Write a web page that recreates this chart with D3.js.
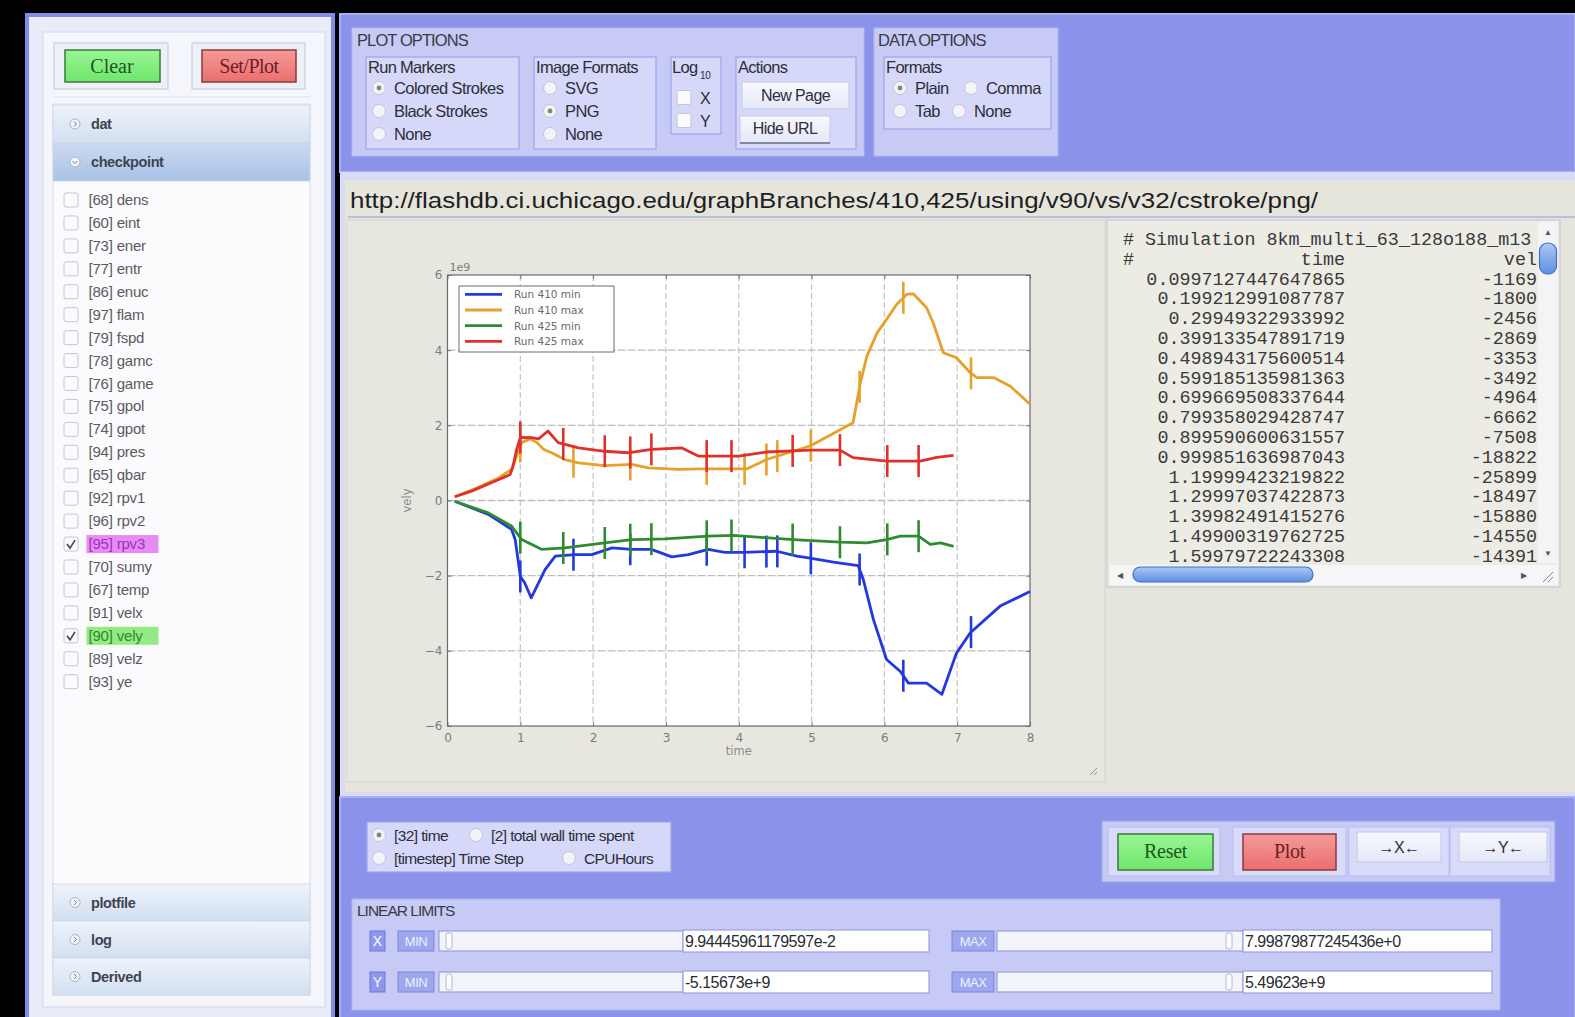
<!DOCTYPE html>
<html><head><meta charset="utf-8">
<script src="https://cdn.jsdelivr.net/npm/d3@7"></script>
<style>
html,body{margin:0;padding:0;background:#000;overflow:hidden}
svg{display:block;font-family:"Liberation Sans",Arial,sans-serif}
</style></head><body>
<svg id="page" width="1575" height="1017"></svg>
<script>
// ---------------- chart data (time, vely in units of 1e9) ----------------
const xTicks = [0, 1, 2, 3, 4, 5, 6, 7, 8];
const yTicks = [-6, -4, -2, 0, 2, 4, 6];
const seriesNames = ["Run 410 min", "Run 410 max", "Run 425 min", "Run 425 max"];

const run410MinTime = [0.10,0.56,0.88,0.93,1.00,1.06,1.15,1.34,1.48,1.75,1.98,2.26,2.53,2.80,3.08,3.31,3.58,3.81,4.06,4.52,4.80,5.00,5.30,5.64,5.71,5.85,6.03,6.22,6.33,6.58,6.79,6.99,7.18,7.59,8.00];
const run410MinVely = [-0.02,-0.37,-0.77,-1.04,-2.02,-2.19,-2.59,-1.84,-1.48,-1.44,-1.44,-1.26,-1.30,-1.30,-1.50,-1.44,-1.30,-1.38,-1.38,-1.35,-1.48,-1.54,-1.64,-1.73,-2.10,-3.17,-4.23,-4.55,-4.86,-4.86,-5.157,-4.06,-3.52,-2.81,-2.42];

const run410MaxTime = [0.10,0.40,0.70,0.88,0.95,1.02,1.13,1.23,1.32,1.43,1.61,1.80,2.16,2.53,2.76,3.17,3.47,3.81,4.11,4.38,4.98,5.57,5.62,5.67,5.76,5.90,6.03,6.17,6.31,6.40,6.58,6.67,6.81,6.99,7.18,7.27,7.50,7.73,8.00];
const run410MaxVely = [0.10,0.33,0.60,0.83,1.18,1.54,1.64,1.54,1.36,1.27,1.09,1.00,0.93,0.96,0.87,0.83,0.84,0.84,0.84,1.09,1.45,2.07,2.60,3.13,3.84,4.46,4.82,5.22,5.49,5.496,5.13,4.73,3.93,3.80,3.40,3.27,3.27,3.04,2.56];

const run425MinTime = [0.10,0.56,0.88,1.02,1.29,1.61,2.16,2.53,2.99,3.58,3.93,4.75,5.39,5.76,6.03,6.22,6.47,6.63,6.77,6.95];
const run425MinVely = [-0.02,-0.33,-0.68,-1.04,-1.30,-1.26,-1.13,-1.04,-1.02,-0.95,-0.93,-1.04,-1.11,-1.13,-1.04,-0.95,-0.95,-1.17,-1.13,-1.22];

const run425MaxTime = [0.10,0.33,0.65,0.86,0.90,0.95,1.00,1.16,1.25,1.38,1.52,1.80,2.16,2.48,2.80,3.22,3.45,3.81,4.00,4.38,4.98,5.39,5.57,6.03,6.49,6.72,6.95];
const run425MaxVely = [0.10,0.25,0.51,0.69,0.91,1.36,1.68,1.67,1.64,1.85,1.54,1.40,1.31,1.27,1.36,1.40,1.18,1.18,1.18,1.29,1.34,1.34,1.14,1.05,1.05,1.15,1.20];

// checkpoint times drawn as stroke markers on each run
const run410Checkpoints = [1.00,1.73,2.51,3.56,4.08,4.38,4.53,4.99,5.66,6.26,7.19];
const run425Checkpoints = [1.00,1.59,2.16,2.51,2.80,3.56,3.90,4.74,5.39,6.04,6.47];

// ---------------- page text data ----------------
const varIds   = [68,60,73,77,86,97,79,78,76,75,74,94,65,92,96,95,70,67,91,90,89,93];
const varNames = ["dens","eint","ener","entr","enuc","flam","fspd","gamc","game","gpol","gpot","pres","qbar","rpv1","rpv2","rpv3","sumy","temp","velx","vely","velz","ye"];
const checkedVars = ["rpv3", "vely"];
const tableTimes = ["0.0997127447647865","0.199212991087787","0.29949322933992","0.399133547891719","0.498943175600514","0.599185135981363","0.699669508337644","0.799358029428747","0.899590600631557","0.999851636987043","1.19999423219822","1.29997037422873","1.39982491415276","1.49900319762725","1.59979722243308"];
const tableVely  = ["-1169","-1800","-2456","-2869","-3353","-3492","-4964","-6662","-7508","-18822","-25899","-18497","-15880","-14550","-14391"];
const plotUrl = "http://flashdb.ci.uchicago.edu/graphBranches/410,425/using/v90/vs/v32/cstroke/png/";
const limitRows = [
  {axis: "X", min: "9.94445961179597e-2", max: "7.99879877245436e+0"},
  {axis: "Y", min: "-5.15673e+9", max: "5.49623e+9"}
];

// ---------------- styles ----------------
const seriesColors = ["#2438de", "#e6a12c", "#2f8b30", "#e0302b"];
const C = {
  blue: "#8a92ea", blueEdge: "#a9b0f3", optBox: "#c6caf5", optEdge: "#b2b8f0",
  group: "#d5d8f9", groupEdge: "#9ea5ec", beige: "#e6e5dc", figure: "#e8e7df",
  text: "#3a3a44"
};

const svg = d3.select("#page");
const defs = svg.append("defs");

function box(g, x, y, w, h, fill, stroke, sw, rx) {
  return g.append("rect").attr("x", x).attr("y", y).attr("width", w).attr("height", h)
    .attr("fill", fill).attr("stroke", stroke || "none").attr("stroke-width", sw || 1).attr("rx", rx || 0);
}
function txt(g, x, y, s, size, fill, opts) {
  opts = opts || {};
  const t = g.append("text").attr("x", x).attr("y", y).text(s)
    .attr("font-size", size).attr("fill", fill || C.text)
    .attr("text-anchor", opts.anchor || "start")
    .attr("letter-spacing", opts.ls != null ? opts.ls : -0.3);
  if (opts.family) t.attr("font-family", opts.family);
  if (opts.weight) t.attr("font-weight", opts.weight);
  if (opts.len) t.attr("textLength", opts.len).attr("lengthAdjust", "spacingAndGlyphs");
  return t;
}
function radio(g, cx, cy, on) {
  g.append("circle").attr("cx", cx).attr("cy", cy).attr("r", 6.5)
    .attr("fill", "#f3f3f8").attr("stroke", "#c2c5dc").attr("stroke-width", 1);
  if (on) g.append("circle").attr("cx", cx).attr("cy", cy).attr("r", 2.4).attr("fill", "#7d8a78");
}
function checkbox(g, x, y, on) {
  box(g, x, y, 14, 14, "#fbfbfd", "#c4c6d2", 1, 2);
  if (on) g.append("path").attr("d", `M${x+3},${y+7} L${x+6},${y+11} L${x+11},${y+3}`)
    .attr("fill", "none").attr("stroke", "#444").attr("stroke-width", 1.6);
}

// gradients
function vgrad(id, c1, c2) {
  const lg = defs.append("linearGradient").attr("id", id).attr("x1", 0).attr("y1", 0).attr("x2", 0).attr("y2", 1);
  lg.append("stop").attr("offset", "0%").attr("stop-color", c1);
  lg.append("stop").attr("offset", "100%").attr("stop-color", c2);
}
vgrad("hdr", "#eef3fb", "#d2dff0");
vgrad("hdrOn", "#cbdaf0", "#a9c2e7");
vgrad("btnG", "#98f694", "#6fe66c");
vgrad("btnR", "#f59a9a", "#ea6e6e");
vgrad("btnW", "#f8f9fe", "#e4e7f6");
vgrad("thumb", "#a9c8f4", "#5f8fe0");

// ======================= left panel =======================
const sidePanel = svg.append("g");
box(sidePanel, 27, 15, 306, 1012, "#e9ecf8", "#7f8de8", 4);
box(sidePanel, 43, 32, 282, 975, "#f5f6fb", "#d3d7e8", 1);
// action buttons
box(sidePanel, 54, 43, 114, 46, "#eef0f8", "#c9cddf", 1.2);
box(sidePanel, 192, 43, 113, 46, "#eef0f8", "#c9cddf", 1.2);
box(sidePanel, 65, 50, 95, 32, "url(#btnG)", "#3b7a38", 1.5);
box(sidePanel, 202, 50, 94, 32, "url(#btnR)", "#8c3a3a", 1.5);
txt(sidePanel, 112, 73, "Clear", 20, "#21561f", {anchor: "middle", family: "Liberation Serif", ls: 0});
txt(sidePanel, 249, 73, "Set/Plot", 20, "#6e1f1f", {anchor: "middle", family: "Liberation Serif", ls: -0.5});
sidePanel.append("line").attr("x1", 53).attr("x2", 310).attr("y1", 97).attr("y2", 97).attr("stroke", "#dde0ea");
// accordion
box(sidePanel, 53, 104, 257, 891, "#fbfbfd", "#d8dbe6", 1);
const headers = [
  {name: "dat", y: 105, h: 38, on: false},
  {name: "checkpoint", y: 143, h: 38, on: true},
  {name: "plotfile", y: 884, h: 37, on: false},
  {name: "log", y: 921, h: 37, on: false},
  {name: "Derived", y: 958, h: 37, on: false}
];
headers.forEach(hd => {
  box(sidePanel, 53, hd.y, 257, hd.h, hd.on ? "url(#hdrOn)" : "url(#hdr)", "#c9d5e8", 0.8);
  sidePanel.append("circle").attr("cx", 75).attr("cy", hd.y + hd.h / 2).attr("r", 5)
    .attr("fill", "#f2f5fa").attr("stroke", "#a9b3c6");
  sidePanel.append("path").attr("d", hd.on
      ? `M72.5,${hd.y + hd.h/2 - 1} l2.5,2.5 l2.5,-2.5`
      : `M74,${hd.y + hd.h/2 - 2.5} l2.5,2.5 l-2.5,2.5`)
    .attr("fill", "none").attr("stroke", "#6d7890").attr("stroke-width", 1);
  txt(sidePanel, 91, hd.y + hd.h / 2 + 5, hd.name, 14.5, "#3f4450", {weight: "bold", ls: -0.4});
});
// variable list
const rowY = d3.scaleLinear().domain([0, varNames.length - 1]).range([200, 681.7]);
const hl = {rpv3: {bg: "#e68cf2", fg: "#a02fc4"}, vely: {bg: "#94ea84", fg: "#2d8a2b"}};
const items = sidePanel.selectAll("g.var").data(varNames).join("g").attr("class", "var");
items.each(function (name, i) {
  const g = d3.select(this), cy = rowY(i);
  checkbox(g, 64, cy - 7, checkedVars.includes(name));
  const label = `[${varIds[i]}] ${name}`;
  if (hl[name]) box(g, 86.5, cy - 9, 72, 18, hl[name].bg, "none");
  txt(g, 88.5, cy + 5, label, 15, hl[name] ? hl[name].fg : "#5a5a62", {ls: -0.2});
});

// ======================= top options panel =======================
const optPanel = svg.append("g");
box(optPanel, 340, 14, 1235, 158, C.blue, C.blueEdge, 2);
box(optPanel, 352, 28, 512, 128, C.optBox, C.optEdge, 1);
txt(optPanel, 357, 46, "PLOT OPTIONS", 16.5, "#3a3a46", {ls: -0.9});
box(optPanel, 874, 28, 184, 128, C.optBox, C.optEdge, 1);
txt(optPanel, 878, 46, "DATA OPTIONS", 16.5, "#3a3a46", {ls: -1});

function group(x, y, w, h, title) {
  box(optPanel, x, y, w, h, C.group, C.groupEdge, 1.2);
  if (title) txt(optPanel, x + 2, y + 16, title, 16.5, "#2e2e3a", {ls: -0.7});
}
const itemY = [88, 111, 134];
group(366, 57, 153, 92, "Run Markers");
["Colored Strokes", "Black Strokes", "None"].forEach((s, i) => {
  radio(optPanel, 379, itemY[i], i === 0);
  txt(optPanel, 394, itemY[i] + 6, s, 16.5, "#2e2e3a", {ls: -0.6});
});
group(534, 57, 122, 92, "Image Formats");
["SVG", "PNG", "None"].forEach((s, i) => {
  radio(optPanel, 550, itemY[i], i === 1);
  txt(optPanel, 565, itemY[i] + 6, s, 16.5, "#2e2e3a", {ls: -0.6});
});
group(671, 57, 50, 77, null);
txt(optPanel, 672, 73, "Log", 16.5, "#2e2e3a", {ls: -0.7});
txt(optPanel, 700, 79, "10", 10, "#2e2e3a", {ls: -0.3});
[["X", 97.5], ["Y", 120.5]].forEach(([s, cy]) => {
  checkbox(optPanel, 677, cy - 7, false);
  txt(optPanel, 700, cy + 6, s, 16, "#2e2e3a", {ls: 0});
});
group(736, 57, 120, 92, "Actions");
box(optPanel, 742, 82, 107, 27, "url(#btnW)", "#c5c9e6", 1);
txt(optPanel, 795.5, 101, "New Page", 16, "#2e2e3a", {anchor: "middle", ls: -0.6});
box(optPanel, 740, 116, 90, 27, "url(#btnW)", "#c5c9e6", 1);
optPanel.append("line").attr("x1", 740).attr("x2", 830).attr("y1", 143).attr("y2", 143).attr("stroke", "#6a6f86").attr("stroke-width", 1.5);
txt(optPanel, 785, 134, "Hide URL", 16, "#2e2e3a", {anchor: "middle", ls: -0.6});
group(884, 57, 167, 72, "Formats");
[["Plain", 900, 88, true], ["Comma", 971, 88, false], ["Tab", 900, 111, false], ["None", 959, 111, false]]
  .forEach(([s, cx, cy, on]) => {
    radio(optPanel, cx, cy, on);
    txt(optPanel, cx + 15, cy + 6, s, 16.5, "#2e2e3a", {ls: -0.6});
  });

// ======================= main display area =======================
const display = svg.append("g");
box(display, 340, 172, 1235, 626, "#d8dbf5", "none");
box(display, 345, 180, 1230, 612, C.beige, "none");
txt(display, 350, 208, plotUrl, 22, "#1e1e24", {len: 968, ls: 0});
display.append("line").attr("x1", 348).attr("x2", 1575).attr("y1", 217).attr("y2", 217)
  .attr("stroke", "#aab1e6").attr("stroke-width", 1.5);
box(display, 347, 220, 758, 562, C.figure, "#d6d5cc", 1);
// resize grip
[0, 4].forEach(k => display.append("line").attr("x1", 1090 + k).attr("y1", 775).attr("x2", 1097).attr("y2", 768 + k)
  .attr("stroke", "#8e8e94").attr("stroke-width", 1));

// ---- matplotlib-style chart ----
const plot = svg.append("g");
const x = d3.scaleLinear().domain([0, 8]).range([447.5, 1030]);
const y = d3.scaleLinear().domain([-6, 6]).range([726, 275]);
box(plot, x(0), y(6), x(8) - x(0), y(-6) - y(6), "#ffffff", "none");

// grid
plot.append("g").selectAll("line").data(xTicks.slice(1, -1)).join("line")
  .attr("x1", d => x(d)).attr("x2", d => x(d)).attr("y1", y(6)).attr("y2", y(-6))
  .attr("stroke", "#c9c9cc").attr("stroke-width", 1.3).attr("stroke-dasharray", "6,3");
plot.append("g").selectAll("line").data(yTicks.slice(1, -1)).join("line")
  .attr("x1", x(0)).attr("x2", x(8)).attr("y1", d => y(d)).attr("y2", d => y(d))
  .attr("stroke", "#bdbdc0").attr("stroke-width", 1.3).attr("stroke-dasharray", "8,2");

// axes (ticks point inward, labels outside)
const fmt = d3.format("d");
plot.append("g").attr("transform", `translate(0,${y(-6)})`)
  .call(d3.axisBottom(x).tickValues(xTicks).tickFormat(fmt).tickSizeInner(-4).tickSizeOuter(0).tickPadding(7));
plot.append("g").attr("transform", `translate(${x(0)},0)`)
  .call(d3.axisLeft(y).tickValues(yTicks).tickFormat(fmt).tickSizeInner(-4).tickSizeOuter(0).tickPadding(5));
plot.append("g").attr("transform", `translate(0,${y(6)})`)
  .call(d3.axisTop(x).tickValues(xTicks).tickFormat("").tickSizeInner(-4).tickSizeOuter(0));
plot.append("g").attr("transform", `translate(${x(8)},0)`)
  .call(d3.axisRight(y).tickValues(yTicks).tickFormat("").tickSizeInner(-4).tickSizeOuter(0));
plot.selectAll(".domain").remove();
plot.selectAll(".tick line").attr("stroke", "#777");
plot.selectAll(".tick text").attr("fill", "#7b7b80").attr("font-size", 12)
  .attr("font-family", "DejaVu Sans, sans-serif");
box(plot, x(0), y(6), x(8) - x(0), y(-6) - y(6), "none", "#6a6a70", 1.2);
txt(plot, x(0) + 2, y(6) - 4, "1e9", 11, "#7b7b80", {family: "DejaVu Sans", ls: 0});
txt(plot, (x(0) + x(8)) / 2, 755, "time", 11.5, "#8a8a90", {anchor: "middle", family: "DejaVu Sans", ls: 0});
txt(plot, 0, 0, "vely", 11.5, "#8a8a90", {anchor: "middle", family: "DejaVu Sans", ls: 0})
  .attr("transform", `translate(411,${y(0)}) rotate(-90)`);

// series
const series = [
  {t: run410MinTime, v: run410MinVely, marks: run410Checkpoints},
  {t: run410MaxTime, v: run410MaxVely, marks: run410Checkpoints},
  {t: run425MinTime, v: run425MinVely, marks: run425Checkpoints},
  {t: run425MaxTime, v: run425MaxVely, marks: run425Checkpoints}
];
function valueAt(s, t) {
  const i = Math.max(1, Math.min(s.t.length - 1, d3.bisectLeft(s.t, t)));
  const t0 = s.t[i - 1], t1 = s.t[i];
  return s.v[i - 1] + (s.v[i] - s.v[i - 1]) * (t - t0) / (t1 - t0);
}
const line = d3.line().x(d => x(d[0])).y(d => y(d[1]));
const drawOrder = [1, 3, 0, 2];
drawOrder.forEach(k => {
  const s = series[k];
  plot.append("path").datum(d3.zip(s.t, s.v)).attr("d", line)
    .attr("fill", "none").attr("stroke", seriesColors[k]).attr("stroke-width", 2.8)
    .attr("stroke-linejoin", "round");
  plot.append("g").selectAll("line").data(s.marks).join("line")
    .attr("x1", d => x(d)).attr("x2", d => x(d))
    .attr("y1", d => y(valueAt(s, d)) - 16).attr("y2", d => y(valueAt(s, d)) + 16)
    .attr("stroke", seriesColors[k]).attr("stroke-width", 2.6);
});

// legend
const leg = plot.append("g");
box(leg, 459, 286, 155, 66, "#ffffff", "#6d6d72", 1);
seriesNames.forEach((n, i) => {
  const ly = 294.3 + i * 15.7;
  leg.append("line").attr("x1", 465).attr("x2", 502).attr("y1", ly).attr("y2", ly)
    .attr("stroke", seriesColors[i]).attr("stroke-width", 2.8);
  txt(leg, 514, ly + 4, n, 10.5, "#6a6a70", {family: "DejaVu Sans", ls: 0});
});

// ---- data listing panel ----
const tbl = svg.append("g");
box(tbl, 1107, 220, 453, 367, "#ecebe4", "#c8cad8", 1.2);
defs.append("clipPath").attr("id", "tblClip").append("rect")
  .attr("x", 1110).attr("y", 222).attr("width", 427).attr("height", 341);
const tt = tbl.append("g").attr("clip-path", "url(#tblClip)");
const mono = {family: "Liberation Mono", ls: 0};
txt(tt, 1123, 244.5, "# Simulation 8km_multi_63_128o188_m13", 18.4, "#3a3a3a", mono);
txt(tt, 1123, 264.5, "#", 18.4, "#3a3a3a", mono);
txt(tt, 1345, 264.5, "time", 18.4, "#3a3a3a", {...mono, anchor: "end"});
txt(tt, 1548, 264.5, "vely", 18.4, "#3a3a3a", {...mono, anchor: "end"});
const tRow = d3.scaleLinear().domain([0, tableTimes.length - 1]).range([278.3, 555.4]);
tableTimes.forEach((s, i) => {
  txt(tt, 1345, tRow(i) + 6.3, s, 18.4, "#3a3a3a", {...mono, anchor: "end"});
  txt(tt, 1537, tRow(i) + 6.3, tableVely[i], 18.4, "#3a3a3a", {...mono, anchor: "end"});
});
// scrollbars
box(tbl, 1538, 222, 20, 341, "#f4f4f6", "none");
box(tbl, 1539.5, 243, 17, 31, "url(#thumb)", "#3f6ec6", 1.2, 8);
txt(tbl, 1548, 235, "▲", 8, "#555", {anchor: "middle", ls: 0});
txt(tbl, 1548, 556, "▼", 8, "#555", {anchor: "middle", ls: 0});
box(tbl, 1110, 565, 448, 20, "#f6f6f8", "none");
box(tbl, 1133, 567, 180, 15, "url(#thumb)", "#3f6ec6", 1.2, 7.5);
txt(tbl, 1120, 578, "◀", 8, "#555", {anchor: "middle", ls: 0});
txt(tbl, 1524, 578, "▶", 8, "#555", {anchor: "middle", ls: 0});
tbl.append("path").attr("d", "M1543,582 l10,-10 M1548,582 l5,-5").attr("stroke", "#888").attr("stroke-width", 1);

// ======================= bottom panel =======================
const bot = svg.append("g");
box(bot, 340, 797, 1235, 222, C.blue, C.blueEdge, 2);
// abscissa choice
box(bot, 367, 822, 304, 50, C.group, C.groupEdge, 1.2);
[["[32] time", 379, 835, true], ["[2] total wall time spent", 476, 835, false],
 ["[timestep] Time Step", 379, 858, false], ["CPUHours", 569, 858, false]]
  .forEach(([s, cx, cy, on]) => {
    radio(bot, cx, cy, on);
    txt(bot, cx + 15, cy + 5.5, s, 15.5, "#2e2e3a", {ls: -0.6});
  });
// plot buttons
box(bot, 1102, 821, 453, 61, C.optBox, C.groupEdge, 1.2);
[[1108, 112], [1233, 113], [1349, 100], [1450, 100]].forEach(([fx, fw]) =>
  box(bot, fx, 827, fw, 49, "#d8dbf9", "#b9bef0", 1));
box(bot, 1118, 834, 95, 36, "url(#btnG)", "#3b7a38", 1.5);
txt(bot, 1165.5, 858, "Reset", 20, "#21561f", {anchor: "middle", family: "Liberation Serif", ls: -0.3});
box(bot, 1243, 834, 93, 36, "url(#btnR)", "#8c3a3a", 1.5);
txt(bot, 1289.5, 858, "Plot", 20, "#6e1f1f", {anchor: "middle", family: "Liberation Serif", ls: -0.3});
box(bot, 1357, 832, 84, 30, "url(#btnW)", "#c3c7e6", 1);
txt(bot, 1399, 853, "→X←", 16, "#2e2e3a", {anchor: "middle", ls: -0.5});
box(bot, 1459, 832, 88, 30, "url(#btnW)", "#c3c7e6", 1);
txt(bot, 1503, 853, "→Y←", 16, "#2e2e3a", {anchor: "middle", ls: -0.5});

// linear limits
box(bot, 352, 899, 1148, 111, C.optBox, C.optEdge, 1);
txt(bot, 357, 916, "LINEAR LIMITS", 15.5, "#3a3a46", {ls: -1});
const limY = [941, 982];
limitRows.forEach((r, i) => {
  const cy = limY[i];
  box(bot, 370, cy - 10, 15, 20, "#8f97ec", "#6c76d6", 1);
  txt(bot, 377.5, cy + 5, r.axis, 14, "#ffffff", {anchor: "middle", ls: 0});
  [[398, 36, "MIN"], [952, 42, "MAX"]].forEach(([bx, bw, lab]) => {
    box(bot, bx, cy - 10, bw, 20, "#9ea6ee", "#7c85db", 1);
    txt(bot, bx + bw / 2, cy + 5, lab, 13, "#eef0ff", {anchor: "middle", ls: -0.5});
  });
  // sliders
  [[439, 244, 446], [997, 246, 1226]].forEach(([sx, sw, hx]) => {
    box(bot, sx, cy - 10, sw, 20, "#f4f5fb", "#9aa1dc", 1.2);
    box(bot, hx, cy - 8, 6, 16, "#fdfdff", "#b4b8d6", 1, 2);
  });
  // inputs
  box(bot, 683, cy - 11, 246, 22, "#ffffff", "#9aa1dc", 1.2);
  txt(bot, 685, cy + 6, r.min, 16, "#2b2b33", {ls: -0.5});
  box(bot, 1243, cy - 11, 249, 22, "#ffffff", "#9aa1dc", 1.2);
  txt(bot, 1245, cy + 6, r.max, 16, "#2b2b33", {ls: -0.5});
});
</script>
</body></html>
